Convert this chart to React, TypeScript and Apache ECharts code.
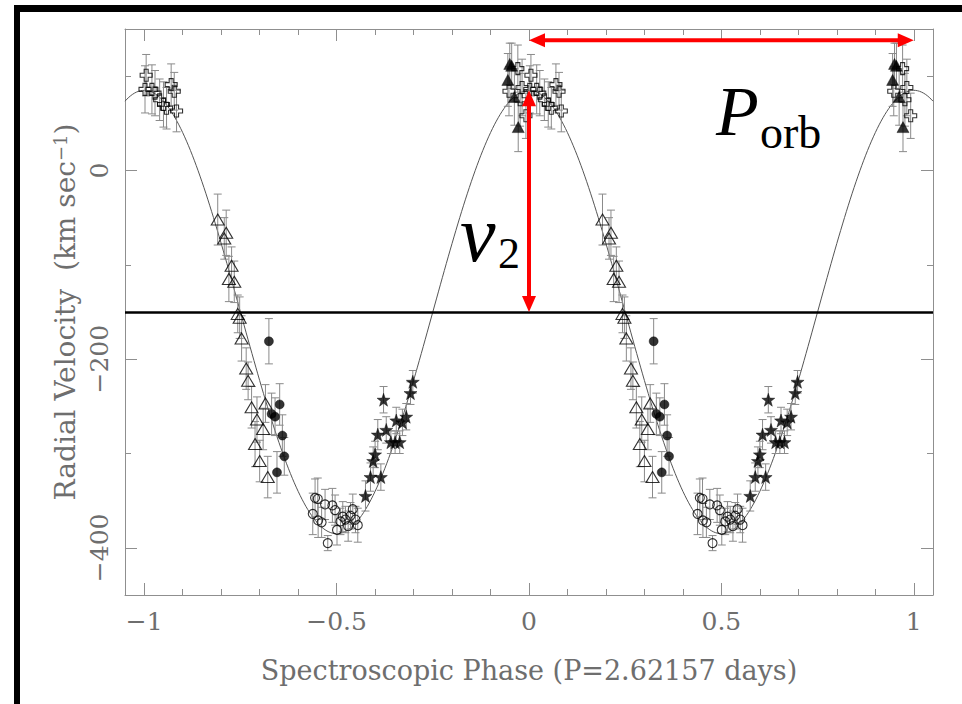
import React, { useEffect, useRef } from "react";
import * as echarts from "echarts";

// Orbital solution
const PERIOD_DAYS = 2.62157;
const GAMMA = -150; // systemic velocity (km/s)
const K2 = 235; // velocity semi-amplitude (km/s)
const PORB_ARROW_VEL = 138; // height of the period arrow (km/s)

// Axis extents and ticks
const X_MIN = -1.05;
const X_MAX = 1.05;
const Y_MIN = -450;
const Y_MAX = 150;
const xMajorTicks = [-1, -0.5, 0, 0.5, 1];
const xMinorTicks = [-0.9, -0.8, -0.7, -0.6, -0.4, -0.3, -0.2, -0.1, 0.1, 0.2, 0.3, 0.4, 0.6, 0.7, 0.8, 0.9];
const yMajorTicks = [-400, -200, 0];
const yMinorTicks = [-300, -100, 100];

// Open crosses
const crossPhase = [0.948, 0.971, 0.977, 0.982, 0.992, 0.002, 0.005, 0.02, 0.028, 0.04, 0.05, 0.058, 0.07, 0.078, 0.084];
const crossVel = [84, 108, 75, 88, 58, 86, 101, 86, 82, 75, 70, 66, 91, 84, 63];
const crossErr = [26, 25, 28, 30, 24, 25, 22, 26, 24, 22, 24, 22, 22, 20, 22];

// Filled triangles
const ftriPhase = [0.945, 0.95, 0.955, 0.962, 0.972];
const ftriVel = [96, 113, 111, 78, 46];
const ftriErr = [28, 22, 24, 30, 26];

// Open triangles
const otriPhase = [0.191, 0.213, 0.208, 0.227, 0.22, 0.234, 0.243, 0.248, 0.253, 0.265, 0.27, 0.279, 0.315, 0.293, 0.309, 0.288, 0.3, 0.321];
const otriVel = [-52, -66, -72, -101, -115, -118, -152, -156, -178, -210, -223, -251, -247, -264, -274, -290, -308, -325];
const otriErr = [27, 24, 22, 20, 24, 22, 20, 22, 24, 22, 20, 22, 20, 24, 22, 24, 22, 22];

// Filled circles
const fcircPhase = [0.324, 0.352, 0.331, 0.34, 0.359, 0.364, 0.345];
const fcircVel = [-181, -248, -258, -261, -281, -303, -320];
const fcircErr = [24, 22, 22, 20, 22, 20, 22];

// Open circles
const ocircPhase = [0.438, 0.444, 0.451, 0.452, 0.461, 0.47, 0.477, 0.489, 0.496, 0.501, 0.51, 0.516, 0.523, 0.53, 0.536, 0.542, 0.549, 0.555];
const ocircVel = [-364, -347, -348, -371, -373, -354, -395, -355, -360, -381, -372, -367, -370, -377, -366, -359, -370, -376];
const ocircErr = [22, 20, 22, 18, 16, 16, 8, 18, 16, 16, 14, 16, 14, 16, 14, 16, 14, 18];

// Filled stars
const starPhase = [0.575, 0.588, 0.595, 0.6, 0.607, 0.615, 0.622, 0.629, 0.641, 0.652, 0.655, 0.664, 0.671, 0.681, 0.692, 0.698];
const starVel = [-345, -325, -308, -301, -280, -325, -243, -275, -288, -288, -265, -288, -267, -261, -236, -224];
const starErr = [16, 15, 15, 14, 16, 14, 14, 14, 12, 12, 14, 12, 14, 14, 12, 12];

const FONT = "DejaVu Serif";
const TEXT_GRAY = "#6e6e6e";
const AXIS_GRAY = "#8f8f8f";
const BAR_GRAY = "#8a8a8a";

const CROSS_PATH = "path://M1,0H2V1H3V2H2V3H1V2H0V1H1Z";
const STAR_PATH =
  "path://M0,-10L2.35,-3.24L9.51,-3.09L3.8,1.24L5.88,8.09L0,4L-5.88,8.09L-3.8,1.24L-9.51,-3.09L-2.35,-3.24Z";

// Each measurement is shown at its phase and one cycle earlier
function folded(phase: number[], vel: number[]) {
  const out: number[][] = [];
  phase.forEach((p, i) => {
    [p - 1, p].forEach((q) => {
      if (q >= X_MIN && q <= X_MAX) out.push([q, vel[i]]);
    });
  });
  return out;
}

function foldedErr(phase: number[], vel: number[], err: number[]) {
  const out: number[][] = [];
  phase.forEach((p, i) => {
    [p - 1, p].forEach((q) => {
      if (q >= X_MIN && q <= X_MAX) out.push([q, vel[i] - err[i], vel[i] + err[i]]);
    });
  });
  return out;
}

// Fitted radial-velocity curve of the secondary
function orbitCurve() {
  const pts: number[][] = [];
  for (let i = 0; i <= 420; i++) {
    const ph = X_MIN + (i * (X_MAX - X_MIN)) / 420;
    pts.push([ph, GAMMA + K2 * Math.cos(2 * Math.PI * ph)]);
  }
  return pts;
}

const fmt = (v: number) => (v < 0 ? "\u2212" + Math.abs(v) : String(v));

export default function App() {
  const ref = useRef<HTMLDivElement>(null);

  useEffect(() => {
    if (!ref.current) return;
    const chart = echarts.init(ref.current, null, { renderer: "svg" });

    const xBase = { type: "value", min: X_MIN, max: X_MAX, splitLine: { show: false } };
    const yBase = { type: "value", min: Y_MIN, max: Y_MAX, splitLine: { show: false } };
    const tickStyle = { color: AXIS_GRAY, width: 1 };
    const boxLine = { show: true, onZero: false, lineStyle: { color: AXIS_GRAY, width: 1 } };
    const noLine = { show: false, onZero: false };

    const errData = [
      ...foldedErr(crossPhase, crossVel, crossErr),
      ...foldedErr(ftriPhase, ftriVel, ftriErr),
      ...foldedErr(otriPhase, otriVel, otriErr),
      ...foldedErr(fcircPhase, fcircVel, fcircErr),
      ...foldedErr(ocircPhase, ocircVel, ocircErr),
      ...foldedErr(starPhase, starVel, starErr),
    ];

    const open = { color: "rgba(0,0,0,0)", borderColor: "#000", borderWidth: 1.1 };
    const filled = { color: "#000", borderColor: "#000", borderWidth: 0.5 };

    const option: any = {
      animation: false,
      backgroundColor: "#fff",
      grid: { left: 125, top: 29, width: 808, height: 566 },
      xAxis: [
        {
          ...xBase,
          position: "bottom",
          axisLine: boxLine,
          axisTick: { show: true, inside: true, length: 12, customValues: xMajorTicks, lineStyle: tickStyle },
          axisLabel: {
            customValues: xMajorTicks,
            formatter: fmt,
            margin: 14,
            fontSize: 25,
            fontFamily: FONT,
            color: TEXT_GRAY,
          },
          name: `Spectroscopic Phase (P=${PERIOD_DAYS} days)`,
          nameLocation: "middle",
          nameGap: 62,
          nameTextStyle: { fontSize: 27, fontFamily: FONT, color: TEXT_GRAY },
        },
        {
          ...xBase,
          position: "bottom",
          axisLine: noLine,
          axisTick: { show: true, inside: true, length: 6, customValues: xMinorTicks, lineStyle: tickStyle },
          axisLabel: { show: false },
        },
        {
          ...xBase,
          position: "top",
          axisLine: boxLine,
          axisTick: { show: true, inside: true, length: 12, customValues: xMajorTicks, lineStyle: tickStyle },
          axisLabel: { show: false },
        },
        {
          ...xBase,
          position: "top",
          axisLine: noLine,
          axisTick: { show: true, inside: true, length: 6, customValues: xMinorTicks, lineStyle: tickStyle },
          axisLabel: { show: false },
        },
      ],
      yAxis: [
        {
          ...yBase,
          position: "left",
          axisLine: boxLine,
          axisTick: { show: true, inside: true, length: 12, customValues: yMajorTicks, lineStyle: tickStyle },
          axisLabel: {
            customValues: yMajorTicks,
            formatter: fmt,
            rotate: 90,
            margin: 13,
            fontSize: 25,
            fontFamily: FONT,
            color: TEXT_GRAY,
          },
          name: "{a|Radial Velocity  (km sec}{s|\u22121}{a|)}",
          nameLocation: "middle",
          nameRotate: 90,
          nameGap: 46,
          nameTextStyle: {
            rich: {
              a: { fontSize: 28, fontFamily: FONT, color: TEXT_GRAY },
              s: { fontSize: 18, fontFamily: FONT, color: TEXT_GRAY, verticalAlign: "top", padding: [0, 0, 10, 0] },
            },
          },
        },
        {
          ...yBase,
          position: "left",
          axisLine: noLine,
          axisTick: { show: true, inside: true, length: 6, customValues: yMinorTicks, lineStyle: tickStyle },
          axisLabel: { show: false },
        },
        {
          ...yBase,
          position: "right",
          axisLine: boxLine,
          axisTick: { show: true, inside: true, length: 12, customValues: yMajorTicks, lineStyle: tickStyle },
          axisLabel: { show: false },
        },
        {
          ...yBase,
          position: "right",
          axisLine: noLine,
          axisTick: { show: true, inside: true, length: 6, customValues: yMinorTicks, lineStyle: tickStyle },
          axisLabel: { show: false },
        },
      ],
      series: [
        {
          type: "line",
          name: "orbit",
          data: orbitCurve(),
          showSymbol: false,
          symbol: "none",
          silent: true,
          z: 2,
          lineStyle: { color: "#555", width: 1 },
          markLine: {
            silent: true,
            symbol: "none",
            label: { show: false },
            lineStyle: { color: "#000", width: 2.5, type: "solid" },
            data: [{ yAxis: GAMMA }],
          },
        },
        {
          type: "custom",
          name: "errors",
          data: errData,
          encode: { x: 0, y: [1, 2] },
          silent: true,
          z: 3,
          renderItem: (params: any, api: any) => {
            const x = api.value(0);
            const lo = api.coord([x, api.value(1)]);
            const hi = api.coord([x, api.value(2)]);
            const w = 4;
            const st = { stroke: BAR_GRAY, lineWidth: 1 };
            return {
              type: "group",
              children: [
                { type: "line", shape: { x1: lo[0], y1: lo[1], x2: hi[0], y2: hi[1] }, style: st },
                { type: "line", shape: { x1: lo[0] - w, y1: lo[1], x2: lo[0] + w, y2: lo[1] }, style: st },
                { type: "line", shape: { x1: hi[0] - w, y1: hi[1], x2: hi[0] + w, y2: hi[1] }, style: st },
              ],
            };
          },
        },
        { type: "scatter", name: "crosses", z: 4, symbol: CROSS_PATH, symbolSize: 12, itemStyle: open, data: folded(crossPhase, crossVel) },
        { type: "scatter", name: "open triangles", z: 4, symbol: "triangle", symbolSize: [13, 11], itemStyle: open, data: folded(otriPhase, otriVel) },
        { type: "scatter", name: "open circles", z: 4, symbol: "circle", symbolSize: 9, itemStyle: open, data: folded(ocircPhase, ocircVel) },
        { type: "scatter", name: "filled triangles", z: 5, symbol: "triangle", symbolSize: [12, 11], itemStyle: filled, data: folded(ftriPhase, ftriVel) },
        { type: "scatter", name: "filled circles", z: 5, symbol: "circle", symbolSize: 9, itemStyle: filled, data: folded(fcircPhase, fcircVel) },
        { type: "scatter", name: "stars", z: 5, symbol: STAR_PATH, symbolSize: 13, itemStyle: filled, data: folded(starPhase, starVel) },
        {
          type: "custom",
          name: "annotations",
          z: 10,
          silent: true,
          clip: false,
          encode: { x: [0, 2], y: [1, 3] },
          data: [
            [0, PORB_ARROW_VEL, 1, PORB_ARROW_VEL],
            [0, GAMMA, 0, GAMMA + K2],
          ],
          renderItem: (params: any, api: any) => {
            const a = api.coord([api.value(0), api.value(1)]);
            const b = api.coord([api.value(2), api.value(3)]);
            const dx = b[0] - a[0];
            const dy = b[1] - a[1];
            const len = Math.hypot(dx, dy) || 1;
            const ux = dx / len;
            const uy = dy / len;
            const px = -uy;
            const py = ux;
            const hl = 16;
            const hw = 7;
            const a2 = [a[0] + ux * hl, a[1] + uy * hl];
            const b2 = [b[0] - ux * hl, b[1] - uy * hl];
            const red = "#ff0000";
            return {
              type: "group",
              children: [
                {
                  type: "line",
                  shape: { x1: a2[0] - ux, y1: a2[1] - uy, x2: b2[0] + ux, y2: b2[1] + uy },
                  style: { stroke: red, lineWidth: 4 },
                },
                {
                  type: "polygon",
                  shape: { points: [a, [a2[0] + px * hw, a2[1] + py * hw], [a2[0] - px * hw, a2[1] - py * hw]] },
                  style: { fill: red },
                },
                {
                  type: "polygon",
                  shape: { points: [b, [b2[0] + px * hw, b2[1] + py * hw], [b2[0] - px * hw, b2[1] - py * hw]] },
                  style: { fill: red },
                },
              ],
            };
          },
        },
      ],
      graphic: [
        { type: "rect", shape: { x: 14, y: 5, width: 948, height: 7 }, style: { fill: "#000" }, z: 100 },
        { type: "rect", shape: { x: 14, y: 5, width: 6, height: 699 }, style: { fill: "#000" }, z: 100 },
        {
          type: "text",
          x: 716,
          y: 111,
          z: 100,
          style: { text: "P", font: 'italic 70px "Liberation Serif"', fill: "#000", verticalAlign: "middle", align: "left" },
        },
        {
          type: "text",
          x: 760,
          y: 132,
          z: 100,
          style: { text: "orb", font: '46px "Liberation Serif"', fill: "#000", verticalAlign: "middle", align: "left" },
        },
        {
          type: "text",
          x: 460,
          y: 234,
          z: 100,
          style: { text: "v", font: 'italic 80px "Liberation Serif"', fill: "#000", verticalAlign: "middle", align: "left" },
        },
        {
          type: "text",
          x: 498,
          y: 253,
          z: 100,
          style: { text: "2", font: '44px "Liberation Serif"', fill: "#000", verticalAlign: "middle", align: "left" },
        },
      ],
    };

    chart.setOption(option);
    return () => chart.dispose();
  }, []);

  return <div ref={ref} style={{ position: "absolute", left: 0, top: 0, width: 962, height: 704 }} />;
}
